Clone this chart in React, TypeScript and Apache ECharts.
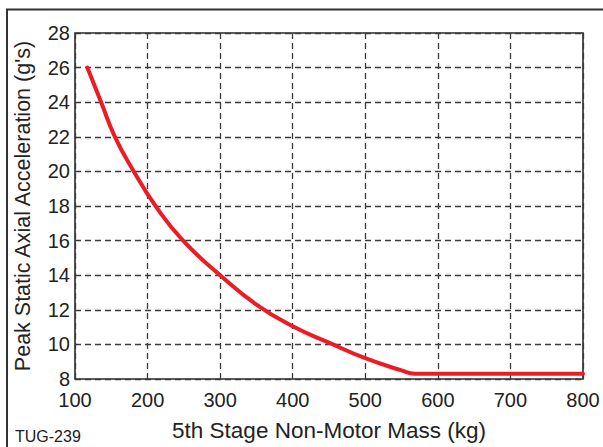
import React, { useEffect, useRef } from "react";
import * as echarts from "echarts";

const massKg = [117, 136, 155, 181, 211, 249, 300, 350, 400, 450, 500, 550, 568, 800];
const accelG = [26, 24, 22, 20, 18, 16, 14, 12.3, 11.05, 10.1, 9.2, 8.5, 8.3, 8.3];
const xTicks = [100, 200, 300, 400, 500, 600, 700, 800];
const yTicks = [8, 10, 12, 14, 16, 18, 20, 22, 24, 26, 28];
const xTitle = "5th Stage Non-Motor Mass (kg)";
const yTitle = "Peak Static Axial Acceleration (g's)";
const figId = "TUG-239";

const FONT = "'Liberation Sans', Arial, Helvetica, sans-serif";

export default function App() {
  const ref = useRef<HTMLDivElement>(null);
  useEffect(() => {
    if (!ref.current) return;
    const chart = echarts.init(ref.current, undefined, { renderer: "svg" });
    const gridDash = {
      show: true,
      lineStyle: { color: "#3a3a3a", width: 1.3, type: [6, 4] as number[] },
    };
    chart.setOption({
      animation: false,
      backgroundColor: "#ffffff",
      textStyle: { fontFamily: FONT },
      grid: {
        left: 75,
        right: 20,
        top: 33,
        bottom: 67,
        show: true,
        borderColor: "#2a2a2a",
        borderWidth: 1.6,
        backgroundColor: "transparent",
      },
      xAxis: {
        type: "value",
        min: xTicks[0],
        max: xTicks[xTicks.length - 1],
        interval: 100,
        name: xTitle,
        nameLocation: "middle",
        nameGap: 40,
        nameTextStyle: { fontSize: 22.5, color: "#222", fontFamily: FONT },
        axisLine: { show: false },
        axisTick: { show: false },
        axisLabel: { fontSize: 20, color: "#222", margin: 11, fontFamily: FONT },
        splitLine: gridDash,
      },
      yAxis: {
        type: "value",
        min: yTicks[0],
        max: yTicks[yTicks.length - 1],
        interval: 2,
        name: yTitle,
        nameLocation: "middle",
        nameGap: 41,
        nameTextStyle: { fontSize: 21.5, color: "#222", fontFamily: FONT },
        axisLine: { show: false },
        axisTick: { show: false },
        axisLabel: { fontSize: 20, color: "#222", margin: 5, fontFamily: FONT },
        splitLine: gridDash,
      },
      graphic: [
        {
          type: "rect",
          shape: { x: 7, y: 9.5, width: 640, height: 480 },
          style: { fill: "none", stroke: "#333", lineWidth: 2 },
          silent: true,
        },
        {
          type: "text",
          x: 15,
          y: 436,
          style: {
            text: figId,
            fontSize: 16,
            fill: "#222",
            fontFamily: FONT,
            textVerticalAlign: "middle",
            verticalAlign: "middle",
          },
          silent: true,
        },
      ],
      series: [
        {
          type: "line",
          data: massKg.map((m, i) => [m, accelG[i]]),
          smooth: 0.5,
          showSymbol: false,
          symbol: "none",
          lineStyle: { color: "#ec1c24", width: 4, cap: "round", join: "round" },
          clip: false,
        },
      ],
    });
    return () => chart.dispose();
  }, []);
  return (
    <div
      ref={ref}
      style={{ position: "fixed", left: 0, top: 0, width: 603, height: 447, background: "#fff" }}
    />
  );
}
